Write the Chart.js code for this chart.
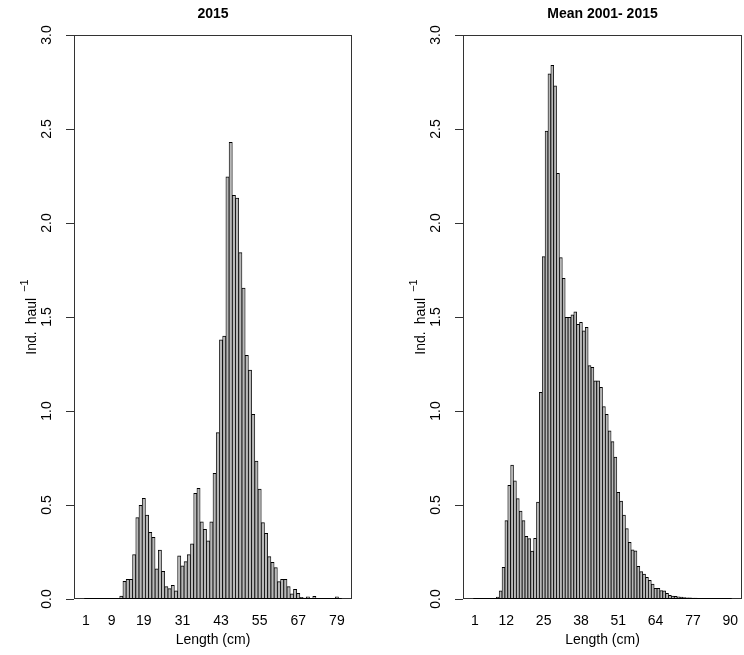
<!DOCTYPE html>
<html>
<head>
<meta charset="utf-8">
<script src="https://cdn.jsdelivr.net/npm/chart.js@4/dist/chart.umd.min.js"></script>
<style>
  html, body { margin: 0; padding: 0; background: #ffffff; }
  #wrap { position: relative; width: 744px; height: 655px; }
  canvas { position: absolute; top: 0; }
  #c2015 { left: 0; }
  #cMean { left: 372px; }
</style>
</head>
<body>
<div id="wrap">
  <canvas id="c2015" width="372" height="655"></canvas>
  <canvas id="cMean" width="372" height="655"></canvas>
</div>
<script>
// Length classes (cm) and catch per haul, year 2015
const lengths2015 = [
  1, 2, 3, 4, 5, 6, 7, 8, 9, 10, 11, 12, 13, 14, 15, 16, 17, 18, 19, 20,
  21, 22, 23, 24, 25, 26, 27, 28, 29, 30, 31, 32, 33, 34, 35, 36, 37, 38, 39, 40,
  41, 42, 43, 44, 45, 46, 47, 48, 49, 50, 51, 52, 53, 54, 55, 56, 57, 58, 59, 60,
  61, 62, 63, 64, 65, 66, 67, 68, 69, 70, 71, 72, 73, 74, 75, 76, 77, 78, 79, 80
];
const perHaul2015 = [
  0, 0, 0, 0, 0, 0, 0, 0, 0, 0, 0, 0.016, 0.094, 0.105, 0.105, 0.236, 0.433, 0.498, 0.535, 0.447,
  0.355, 0.328, 0.161, 0.260, 0.147, 0.066, 0.055, 0.073, 0.044, 0.230, 0.176, 0.199, 0.236, 0.293, 0.562, 0.589, 0.411, 0.371, 0.309, 0.411,
  0.669, 0.885, 1.378, 1.399, 2.246, 2.429, 2.147, 2.133, 1.842, 1.654, 1.296, 1.218, 0.982, 0.734, 0.585, 0.406, 0.349, 0.225, 0.195, 0.167,
  0.092, 0.105, 0.105, 0.066, 0.027, 0.052, 0.030, 0.009, 0.005, 0.012, 0.003, 0.014, 0, 0, 0, 0, 0, 0, 0.012, 0
];
const xLabels2015 = [1, 9, 19, 31, 43, 55, 67, 79];

// Length classes (cm) and mean catch per haul, 2001-2015
const lengthsMean = [
  1, 2, 3, 4, 5, 6, 7, 8, 9, 10, 11, 12, 13, 14, 15, 16, 17, 18, 19, 20,
  21, 22, 23, 24, 25, 26, 27, 28, 29, 30, 31, 32, 33, 34, 35, 36, 37, 38, 39, 40,
  41, 42, 43, 44, 45, 46, 47, 48, 49, 50, 51, 52, 53, 54, 55, 56, 57, 58, 59, 60,
  61, 62, 63, 64, 65, 66, 67, 68, 69, 70, 71, 72, 73, 74, 75, 76, 77, 78, 79, 80,
  81, 82, 83, 84, 85, 86, 87, 88, 89, 90
];
const perHaulMean = [
  0, 0, 0, 0, 0, 0, 0, 0, 0.010, 0.043, 0.168, 0.417, 0.604, 0.712, 0.629, 0.534, 0.468, 0.417, 0.334, 0.322,
  0.255, 0.323, 0.515, 1.099, 1.821, 2.489, 2.793, 2.839, 2.730, 2.264, 1.816, 1.706, 1.498, 1.498, 1.511, 1.528, 1.461, 1.472, 1.426, 1.445,
  1.241, 1.232, 1.161, 1.161, 1.126, 1.023, 0.982, 0.895, 0.837, 0.755, 0.567, 0.521, 0.447, 0.374, 0.301, 0.261, 0.256, 0.174, 0.146, 0.132,
  0.115, 0.099, 0.080, 0.057, 0.057, 0.045, 0.043, 0.030, 0.020, 0.016, 0.014, 0.012, 0.010, 0.008, 0.006, 0.006, 0.005, 0.005, 0.004, 0.004,
  0.003, 0.002, 0.002, 0.001, 0.001, 0.001, 0.001, 0.001, 0, 0
];
const xLabelsMean = [1, 12, 25, 38, 51, 64, 77, 90];

const yTickValues = [0, 0.5, 1, 1.5, 2, 2.5, 3];

const FONT = "'Liberation Sans', Arial, Helvetica, sans-serif";
Chart.defaults.font.family = FONT;
Chart.defaults.font.size = 14;
Chart.defaults.color = '#000000';

// Box around the plotting region, black base line under the bars,
// panel heading over the plotting region and the y-axis title "Ind. haul^-1"
const framePlugin = {
  id: 'frame',
  afterDatasetsDraw(chart, args, pluginOpts) {
    const { ctx, chartArea: a, scales } = chart;
    ctx.save();
    ctx.strokeStyle = '#333333';
    ctx.lineWidth = 1;
    ctx.strokeRect(Math.round(a.left) + 0.5, Math.round(a.top) + 0.5,
                   Math.round(a.right - a.left) - 1, Math.round(a.bottom - a.top) - 1);
    const n = chart.data.datasets[0].data.length;
    const y0 = Math.round(scales.y.getPixelForValue(0)) - 0.5;
    ctx.strokeStyle = '#000000';
    ctx.beginPath();
    ctx.moveTo(scales.x.getPixelForValue(0.5), y0);
    ctx.lineTo(scales.x.getPixelForValue(n + 0.5), y0);
    ctx.stroke();

    // heading
    ctx.fillStyle = '#000000';
    ctx.font = 'bold 14px ' + FONT;
    ctx.textAlign = 'center';
    ctx.textBaseline = 'middle';
    ctx.fillText(pluginOpts.text, (a.left + a.right) / 2, 14);

    // y-axis title with superscript exponent
    const words = ['Ind.', 'haul'];
    const sup = '\u22121';
    const wordGap = 7;
    const supGap = 6;
    ctx.font = '14px ' + FONT;
    const wWords = words.map(w => ctx.measureText(w).width);
    ctx.font = '11px ' + FONT;
    const wSup = ctx.measureText(sup).width;
    const total = wWords[0] + wordGap + wWords[1] + supGap + wSup;
    ctx.translate(pluginOpts.yTitleX, (a.top + a.bottom) / 2);
    ctx.rotate(-Math.PI / 2);
    ctx.textAlign = 'left';
    ctx.textBaseline = 'alphabetic';
    ctx.font = '14px ' + FONT;
    let tx = -total / 2;
    ctx.fillText(words[0], tx, 5);
    tx += wWords[0] + wordGap;
    ctx.fillText(words[1], tx, 5);
    tx += wWords[1] + supGap;
    ctx.font = '11px ' + FONT;
    ctx.fillText(sup, tx, -3);
    ctx.restore();
  }
};

function lengthChart(id, opts) {
  const points = opts.lengths.map((len, i) => ({ x: len, y: opts.values[i] }));
  return new Chart(document.getElementById(id), {
    type: 'bar',
    data: {
      datasets: [{
        data: points,
        backgroundColor: '#b8b8b8',
        borderColor: '#000000',
        borderWidth: { top: 1, left: 0.8, right: 0.8, bottom: 0 },
        borderSkipped: 'start',
        barPercentage: 1,
        categoryPercentage: 1
      }]
    },
    options: {
      responsive: false,
      animation: false,
      devicePixelRatio: 1,
      layout: { padding: { left: 0, right: opts.padRight, top: 35, bottom: 0 } },
      plugins: {
        legend: { display: false },
        tooltip: { enabled: false },
        title: { display: false },
        frame: { text: opts.title, yTitleX: opts.yTitleX }
      },
      scales: {
        x: {
          type: 'linear',
          min: opts.xMin,
          max: opts.xMax,
          offset: false,
          grid: { display: false, drawTicks: false },
          border: { display: false },
          afterBuildTicks: (s) => { s.ticks = opts.xLabels.map(v => ({ value: v })); },
          afterFit: (s) => { s.height = 56; s.paddingLeft = 0; s.paddingRight = 0; },
          ticks: {
            autoSkip: false,
            maxRotation: 0,
            padding: 14,
            font: { family: FONT, size: 14 },
            callback: (v) => String(v)
          },
          title: {
            display: true,
            text: 'Length (cm)',
            font: { family: FONT, size: 14 },
            padding: { top: 0, bottom: 6.6 }
          }
        },
        y: {
          min: 0,
          max: 3,
          afterBuildTicks: (s) => { s.ticks = yTickValues.map(v => ({ value: v })); },
          afterFit: (s) => { s.width = opts.yWidth; s.paddingTop = 0; s.paddingBottom = 0; },
          grid: { drawOnChartArea: false, drawTicks: true, tickLength: 8, color: '#333333' },
          border: { display: false },
          ticks: {
            minRotation: 90,
            maxRotation: 90,
            crossAlign: 'center',
            padding: 9,
            font: { family: FONT, size: 14 },
            callback: (v) => Number(v).toFixed(1)
          },
          title: { display: false }
        }
      }
    },
    plugins: [framePlugin]
  });
}

lengthChart('c2015', {
  title: '2015',
  lengths: lengths2015,
  values: perHaul2015,
  xLabels: xLabels2015,
  xMin: -2.7,
  xMax: 83.7,
  yWidth: 74,
  padRight: 20,
  yTitleX: 31
});

lengthChart('cMean', {
  title: 'Mean 2001- 2015',
  lengths: lengthsMean,
  values: perHaulMean,
  xLabels: xLabelsMean,
  xMin: -3.1,
  xMax: 94.1,
  yWidth: 91,
  padRight: 2,
  yTitleX: 48
});
</script>
</body>
</html>
